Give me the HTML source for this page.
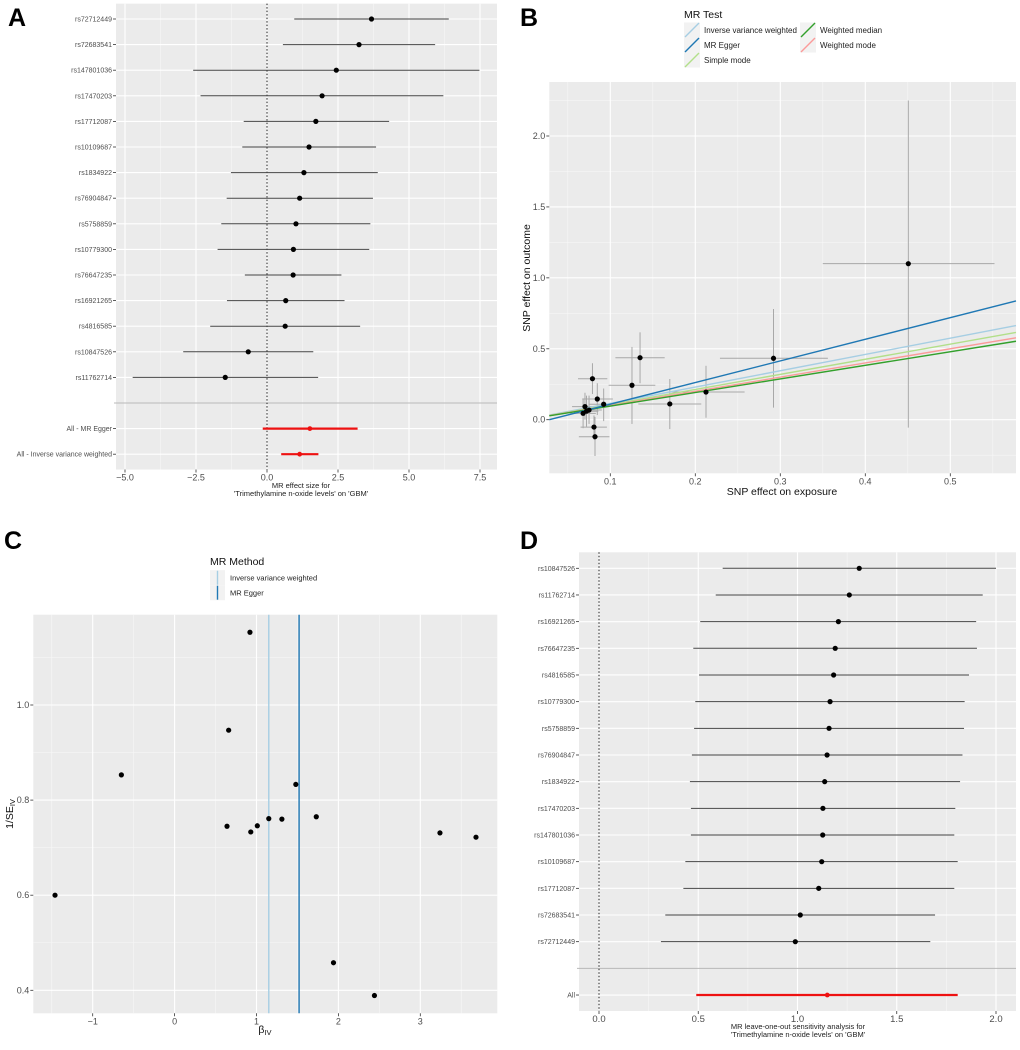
<!DOCTYPE html>
<html><head><meta charset="utf-8"><style>
html,body{margin:0;padding:0;background:#fff;}
svg{display:block;font-family:"Liberation Sans",Arial,sans-serif;}
</style></head><body>
<svg id="fig" width="1020" height="1050" viewBox="0 0 1020 1050" xmlns="http://www.w3.org/2000/svg">
<text x="8" y="26" font-size="25" font-weight="bold">A</text>
<text x="520" y="26" font-size="25" font-weight="bold">B</text>
<text x="4" y="549" font-size="25" font-weight="bold">C</text>
<text x="520" y="549" font-size="25" font-weight="bold">D</text>
</svg>
<script>
// ---------- Panel A data ----------
const aLabels=["rs72712449","rs72683541","rs147801036","rs17470203","rs17712087","rs10109687","rs1834922","rs76904847","rs5758859","rs10779300","rs76647235","rs16921265","rs4816585","rs10847526","rs11762714"];
const aEst=[3.68,3.24,2.44,1.94,1.72,1.48,1.30,1.15,1.02,0.93,0.92,0.66,0.64,-0.66,-1.47];
const aLo=[0.96,0.56,-2.60,-2.34,-0.82,-0.87,-1.27,-1.42,-1.61,-1.74,-0.78,-1.41,-2.00,-2.95,-4.73];
const aHi=[6.40,5.92,7.48,6.21,4.30,3.84,3.90,3.73,3.64,3.60,2.62,2.73,3.28,1.63,1.80];
const aSumLabels=["All - MR Egger","All - Inverse variance weighted"];
const aSumEst=[1.51,1.15];
const aSumLo=[-0.15,0.50];
const aSumHi=[3.19,1.81];
const aTicks=[-5,-2.5,0,2.5,5,7.5];
const aTickLabels=["\u22125.0","\u22122.5","0.0","2.5","5.0","7.5"];
// ---------- Panel B data ----------
const bX=[0.4506,0.292,0.2126,0.170,0.135,0.1255,0.079,0.0847,0.0922,0.0702,0.068,0.075,0.0808,0.082,0.072];
const bY=[1.10,0.433,0.195,0.111,0.437,0.243,0.289,0.146,0.109,0.092,0.045,0.068,-0.052,-0.12,0.06];
const bXLo=[0.350,0.229,0.168,0.133,0.106,0.098,0.062,0.067,0.075,0.055,0.053,0.060,0.065,0.063,0.058];
const bXHi=[0.552,0.356,0.258,0.207,0.164,0.153,0.0965,0.103,0.110,0.085,0.083,0.090,0.096,0.099,0.086];
const bYLo=[-0.056,0.085,0.014,-0.066,0.257,-0.03,0.181,0.033,-0.01,0.0,-0.06,-0.03,-0.14,-0.256,-0.05];
const bYHi=[2.25,0.78,0.38,0.287,0.616,0.513,0.398,0.257,0.22,0.19,0.15,0.17,0.03,0.02,0.17];
const bMethods=["Inverse variance weighted","MR Egger","Simple mode","Weighted median","Weighted mode"];
const bSlopes=[1.15,1.525,1.065,0.958,1.0];
const bIntercepts=[0,-0.043,0,0,0];
const bColors=["#a6cee3","#1f78b4","#b2df8a","#33a02c","#fb9a99"];
const bXTicks=[0.1,0.2,0.3,0.4,0.5];
const bYTicks=[0,0.5,1,1.5,2];
const bYTickLabels=["0.0","0.5","1.0","1.5","2.0"];
// ---------- Panel C data ----------
const cBeta=[-1.46,-0.65,0.66,0.64,0.92,0.93,1.01,1.15,1.31,1.48,1.73,1.94,2.44,3.24,3.68];
const cInvSe=[0.60,0.853,0.947,0.745,1.153,0.733,0.746,0.761,0.76,0.833,0.765,0.458,0.389,0.731,0.722];
const cMethods=["Inverse variance weighted","MR Egger"];
const cMethodBeta=[1.15,1.52];
const cColors=["#a6cee3","#1f78b4"];
const cXTicks=[-1,0,1,2,3];
const cYTicks=[0.4,0.6,0.8,1.0];
const cYTickLabels=["0.4","0.6","0.8","1.0"];
// ---------- Panel D data ----------
const dLabels=["rs10847526","rs11762714","rs16921265","rs76647235","rs4816585","rs10779300","rs5758859","rs76904847","rs1834922","rs17470203","rs147801036","rs10109687","rs17712087","rs72683541","rs72712449"];
const dEst=[1.311,1.261,1.206,1.19,1.182,1.164,1.159,1.149,1.137,1.128,1.127,1.122,1.107,1.014,0.989];
const dLo=[0.623,0.588,0.51,0.475,0.504,0.485,0.479,0.468,0.458,0.463,0.463,0.435,0.425,0.334,0.312];
const dHi=[2.0,1.933,1.90,1.904,1.864,1.842,1.839,1.831,1.819,1.795,1.79,1.807,1.79,1.693,1.669];
const dSumLabels=["All"];
const dSumEst=[1.15];
const dSumLo=[0.49];
const dSumHi=[1.807];
const dTicks=[0,0.5,1,1.5,2];
const dTickLabels=["0.0","0.5","1.0","1.5","2.0"];

const NS="http://www.w3.org/2000/svg";
const svg=document.getElementById('fig');
function mk(tag,attrs,name,parent){
  const el=document.createElementNS(NS,tag);
  for(const k in attrs) el.setAttribute(k,attrs[k]);
  
  
  (parent||svg).appendChild(el);
  return el;
}
function txt(x,y,s,size,anchor,name,fill,extra){
  const t=mk('text',Object.assign({x:x,y:y,'font-size':size,'text-anchor':anchor||'start',fill:fill||'#4d4d4d'},extra||{}),name);
  t.textContent=s; return t;
}
function lin(d0,d1,r0,r1){return v=>r0+(v-d0)*(r1-r0)/(d1-d0);}

// ---------- Forest plot ----------
function forest(p){
  const X=lin(p.ticks[0],p.ticks[p.ticks.length-1],p.t0px,p.t1px);
  const n=p.labels.length, nRows=n+1+p.sumLabels.length;
  const rowY=i=>p.firstY+i*p.step;
  const top=rowY(0)-0.6*p.step, bot=rowY(nRows-1)+0.6*p.step;
  mk('rect',{x:p.px0,y:top,width:p.px1-p.px0,height:bot-top,fill:'#ebebeb'},p.pre+'-panel-background');
  for(let i=0;i<p.ticks.length-1;i++){const m=(p.ticks[i]+p.ticks[i+1])/2;
    mk('line',{x1:X(m),x2:X(m),y1:top,y2:bot,stroke:'#f7f7f7','stroke-width':0.6},p.pre+'-minor-gridline');}
  p.ticks.forEach((t,i)=>{
    mk('line',{x1:X(t),x2:X(t),y1:top,y2:bot,stroke:'#fff','stroke-width':1.1},p.pre+'-x-gridline');
    mk('line',{x1:X(t),x2:X(t),y1:bot,y2:bot+3,stroke:'#333','stroke-width':0.8},p.pre+'-x-tick');
    txt(X(t),bot+11,p.tickLabels[i],p.tickSize,'middle',p.pre+'-x-tick-label');
  });
  const all=p.labels.concat([""]).concat(p.sumLabels);
  all.forEach((l,i)=>{ if(l==="")return; const y=rowY(i);
    mk('line',{x1:p.px0,x2:p.px1,y1:y,y2:y,stroke:'#fff','stroke-width':1.1},p.pre+'-y-gridline');
    mk('line',{x1:p.px0-3,x2:p.px0,y1:y,y2:y,stroke:'#333','stroke-width':0.8},p.pre+'-y-tick');
    txt(p.px0-4,y+2.5,l,p.labSize,'end',p.pre+'-y-label');
  });
  const sy=rowY(n);
  mk('line',{x1:p.px0-2,x2:p.px1,y1:sy,y2:sy,stroke:'#b8b8b8','stroke-width':1},p.pre+'-separator');
  mk('line',{x1:X(0),x2:X(0),y1:top,y2:bot,stroke:'#222','stroke-width':1,'stroke-dasharray':'1.5,2'},p.pre+'-null-line');
  p.est.forEach((e,i)=>{const y=rowY(i);
    mk('line',{x1:X(p.lo[i]),x2:X(p.hi[i]),y1:y,y2:y,stroke:'#444','stroke-width':1},p.pre+'-ci-line');
    mk('circle',{cx:X(e),cy:y,r:2.6,fill:'#000'},p.pre+'-point');
  });
  p.sumEst.forEach((e,i)=>{const y=rowY(n+1+i);
    mk('line',{x1:X(p.sumLo[i]),x2:X(p.sumHi[i]),y1:y,y2:y,stroke:'#ee1111','stroke-width':2.2},p.pre+'-summary-ci');
    mk('circle',{cx:X(e),cy:y,r:2.4,fill:'#ee1111'},p.pre+'-summary-point');
  });
}
forest({pre:'a',labels:aLabels,est:aEst,lo:aLo,hi:aHi,sumLabels:aSumLabels,sumEst:aSumEst,sumLo:aSumLo,sumHi:aSumHi,
  ticks:aTicks,tickLabels:aTickLabels,t0px:125,t1px:480,px0:116,px1:497,firstY:19,step:25.6,tickSize:9,labSize:7});
txt(301,488,"MR effect size for",7.5,'middle','a-x-axis-title','#222');
txt(301,496,"'Trimethylamine n-oxide levels' on 'GBM'",7.5,'middle','a-x-axis-title-line2','#222');

forest({pre:'d',labels:dLabels,est:dEst,lo:dLo,hi:dHi,sumLabels:dSumLabels,sumEst:dSumEst,sumLo:dSumLo,sumHi:dSumHi,
  ticks:dTicks,tickLabels:dTickLabels,t0px:599,t1px:996,px0:579,px1:1016,firstY:568.3,step:26.67,tickSize:9.5,labSize:7});
txt(798,1029,"MR leave-one-out sensitivity analysis for",7.5,'middle','d-x-axis-title','#222');
txt(798,1037,"'Trimethylamine n-oxide levels' on 'GBM'",7.5,'middle','d-x-axis-title-line2','#222');

// ---------- Panel B ----------
(function(){
 const px0=549.3,px1=1016,top=82,bot=473.3;
 const X=lin(0.1,0.5,610.3,950.3), Y=lin(0,2,419.7,136);
 const xd0=0.1+(px0-610.3)/850, xd1=0.1+(px1-610.3)/850;
 mk('rect',{x:px0,y:top,width:px1-px0,height:bot-top,fill:'#ebebeb'},'b-panel-background');
 [0.05,0.15,0.25,0.35,0.45,0.55].forEach(m=>mk('line',{x1:X(m),x2:X(m),y1:top,y2:bot,stroke:'#f7f7f7','stroke-width':0.6},'b-minor-x-gridline'));
 [-0.25,0.25,0.75,1.25,1.75,2.25].forEach(m=>mk('line',{x1:px0,x2:px1,y1:Y(m),y2:Y(m),stroke:'#f7f7f7','stroke-width':0.6},'b-minor-y-gridline'));
 bXTicks.forEach(t=>{
   mk('line',{x1:X(t),x2:X(t),y1:top,y2:bot,stroke:'#fff','stroke-width':1.1},'b-x-gridline');
   mk('line',{x1:X(t),x2:X(t),y1:bot,y2:bot+3,stroke:'#333','stroke-width':0.8},'b-x-tick');
   txt(X(t),bot+11,String(t),9,'middle','b-x-tick-label');
 });
 bYTicks.forEach((t,i)=>{
   mk('line',{x1:px0,x2:px1,y1:Y(t),y2:Y(t),stroke:'#fff','stroke-width':1.1},'b-y-gridline');
   mk('line',{x1:px0-3,x2:px0,y1:Y(t),y2:Y(t),stroke:'#333','stroke-width':0.8},'b-y-tick');
   txt(px0-4,Y(t)+3,bYTickLabels[i],9,'end','b-y-tick-label');
 });
 bX.forEach((x,i)=>{
   mk('line',{x1:X(bXLo[i]),x2:X(bXHi[i]),y1:Y(bY[i]),y2:Y(bY[i]),stroke:'#a8a8a8','stroke-width':1},'b-x-errorbar');
   mk('line',{x1:X(x),x2:X(x),y1:Y(bYLo[i]),y2:Y(bYHi[i]),stroke:'#a8a8a8','stroke-width':1},'b-y-errorbar');
 });
 const order=[0,2,4,3,1];
 order.forEach(i=>{
   mk('line',{x1:X(xd0),x2:X(xd1),y1:Y(bIntercepts[i]+bSlopes[i]*xd0),y2:Y(bIntercepts[i]+bSlopes[i]*xd1),stroke:bColors[i],'stroke-width':1.4},'b-fit-line');
 });
 bX.forEach((x,i)=>mk('circle',{cx:X(x),cy:Y(bY[i]),r:2.6,fill:'#000'},'b-point'));
 txt(782,495,"SNP effect on exposure",10.5,'middle','b-x-axis-title','#111');
 txt(0,0,"SNP effect on outcome",10.5,'middle','b-y-axis-title','#111',{transform:'translate(530,278) rotate(-90)'});
 txt(684,18,"MR Test",10.5,'start','b-legend-title','#111');
 const pos=[[684,30],[684,45],[684,60],[800,30],[800,45]];
 bMethods.forEach((m,i)=>{const [kx,ky]=pos[i];
   mk('rect',{x:kx,y:ky-7.5,width:16,height:15,fill:'#f2f2f2'},'b-legend-key');
   mk('line',{x1:kx+1,y1:ky+7,x2:kx+15,y2:ky-7,stroke:bColors[i],'stroke-width':1.4},'b-legend-swatch');
   txt(kx+20,ky+3,m,8,'start','b-legend-label','#222');
 });
})();

// ---------- Panel C ----------
(function(){
 const px0=33.3,px1=497.3,top=614.7,bot=1013.3;
 const X=lin(0,1,174.6,256.5), Y=lin(1,0.4,705,990.3);
 mk('rect',{x:px0,y:top,width:px1-px0,height:bot-top,fill:'#ebebeb'},'c-panel-background');
 [-1.5,-0.5,0.5,1.5,2.5,3.5].forEach(m=>mk('line',{x1:X(m),x2:X(m),y1:top,y2:bot,stroke:'#f7f7f7','stroke-width':0.6},'c-minor-x-gridline'));
 [0.5,0.7,0.9,1.1].forEach(m=>mk('line',{x1:px0,x2:px1,y1:Y(m),y2:Y(m),stroke:'#f7f7f7','stroke-width':0.6},'c-minor-y-gridline'));
 cXTicks.forEach(t=>{
   mk('line',{x1:X(t),x2:X(t),y1:top,y2:bot,stroke:'#fff','stroke-width':1.1},'c-x-gridline');
   mk('line',{x1:X(t),x2:X(t),y1:bot,y2:bot+3,stroke:'#333','stroke-width':0.8},'c-x-tick');
   txt(X(t),bot+11,t<0?"\u2212"+(-t):String(t),9,'middle','c-x-tick-label');
 });
 cYTicks.forEach((t,i)=>{
   mk('line',{x1:px0,x2:px1,y1:Y(t),y2:Y(t),stroke:'#fff','stroke-width':1.1},'c-y-gridline');
   mk('line',{x1:px0-3,x2:px0,y1:Y(t),y2:Y(t),stroke:'#333','stroke-width':0.8},'c-y-tick');
   txt(px0-4,Y(t)+3,cYTickLabels[i],9,'end','c-y-tick-label');
 });
 cMethodBeta.forEach((b,i)=>mk('line',{x1:X(b),x2:X(b),y1:top,y2:bot,stroke:cColors[i],'stroke-width':1.4},'c-method-line'));
 cBeta.forEach((b,i)=>mk('circle',{cx:X(b),cy:Y(cInvSe[i]),r:2.6,fill:'#000'},'c-point'));
 const xt=txt(265,1033,"\u03B2",10.5,'middle','c-x-axis-title','#111');
 const s1=mk('tspan',{'font-size':7.5,dy:2},'c-x-axis-title-sub',xt); s1.textContent="IV";
 const yt=txt(0,0,"1/SE",10.5,'middle','c-y-axis-title','#111',{transform:'translate(13,814) rotate(-90)'});
 const s2=mk('tspan',{'font-size':7.5,dy:2},'c-y-axis-title-sub',yt); s2.textContent="IV";
 txt(210,565,"MR Method",10.5,'start','c-legend-title','#111');
 cMethods.forEach((m,i)=>{const ky=577.7+15*i;
   mk('rect',{x:210,y:ky-7.5,width:15,height:15,fill:'#f2f2f2'},'c-legend-key');
   mk('line',{x1:217.5,x2:217.5,y1:ky-7,y2:ky+7,stroke:cColors[i],'stroke-width':1.4},'c-legend-swatch');
   txt(230,ky+3,m,7.5,'start','c-legend-label','#222');
 });
})();
</script>
</body></html>
